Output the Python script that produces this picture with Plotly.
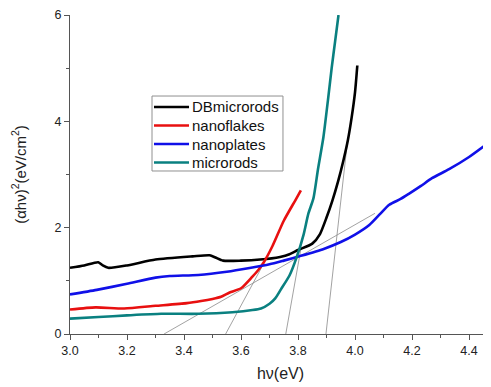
import plotly.graph_objects as go

# DBmicrorods
db_x = [3.0, 3.05, 3.099, 3.115, 3.134, 3.2, 3.3, 3.43, 3.49, 3.51, 3.537, 3.6, 3.667, 3.737, 3.77, 3.8, 3.85, 3.877, 3.90, 3.92, 3.941, 3.959, 3.975, 3.988, 4.0, 4.008]
db_y = [1.245, 1.29, 1.35, 1.29, 1.245, 1.29, 1.40, 1.46, 1.48, 1.44, 1.38, 1.38, 1.40, 1.45, 1.50, 1.58, 1.70, 1.88, 2.19, 2.50, 2.88, 3.26, 3.65, 4.07, 4.55, 5.05]

# nanoflakes
fl_x = [3.0, 3.09, 3.19, 3.3, 3.41, 3.46, 3.5, 3.53, 3.56, 3.6, 3.64, 3.66, 3.68, 3.71, 3.75, 3.79, 3.81]
fl_y = [0.46, 0.50, 0.48, 0.53, 0.58, 0.62, 0.66, 0.70, 0.78, 0.86, 1.08, 1.20, 1.35, 1.65, 2.13, 2.51, 2.70]

# nanoplates
pl_x = [3.0, 3.094, 3.2, 3.3, 3.35, 3.45, 3.55, 3.63, 3.7, 3.75, 3.81, 3.89, 3.95, 4.0, 4.05, 4.09, 4.12, 4.16, 4.19, 4.23, 4.27, 4.33, 4.40, 4.474]
pl_y = [0.745, 0.83, 0.945, 1.06, 1.09, 1.11, 1.17, 1.24, 1.31, 1.38, 1.47, 1.60, 1.73, 1.87, 2.05, 2.27, 2.43, 2.54, 2.64, 2.78, 2.93, 3.10, 3.33, 3.62]

# microrods
mr_x = [3.0, 3.1, 3.2, 3.32, 3.45, 3.57, 3.64, 3.67, 3.70, 3.72, 3.74, 3.77, 3.795, 3.82, 3.836, 3.854, 3.87, 3.889, 3.905, 3.918, 3.93, 3.942]
mr_y = [0.29, 0.32, 0.35, 0.38, 0.38, 0.41, 0.45, 0.48, 0.57, 0.67, 0.84, 1.10, 1.44, 1.88, 2.26, 2.55, 3.1, 3.7, 4.4, 5.0, 5.5, 6.0]

# tangent (extrapolation) lines: [x0, x1], [y0, y1]
tan_plates_x = [3.33, 4.07]
tan_plates_y = [0.0, 2.27]
tan_flakes_x = [3.546, 3.68]
tan_flakes_y = [0.0, 1.33]
tan_rods_x = [3.757, 3.81]
tan_rods_y = [0.0, 1.6]
tan_db_x = [3.898, 3.975]
tan_db_y = [0.0, 3.7]

x_ticks = [3.0, 3.2, 3.4, 3.6, 3.8, 4.0, 4.2, 4.4]
y_ticks = [0, 2, 4, 6]

series_names = ["DBmicrorods", "nanoflakes", "nanoplates", "microrods"]
series_colors = ["#000000", "#e81010", "#1010e8", "#0a8080"]

fig = go.Figure()

for tx, ty in [(tan_plates_x, tan_plates_y), (tan_flakes_x, tan_flakes_y),
               (tan_rods_x, tan_rods_y), (tan_db_x, tan_db_y)]:
    fig.add_trace(go.Scatter(x=tx, y=ty, mode="lines", showlegend=False,
                             line=dict(color="#8a8a8a", width=0.8), hoverinfo="skip"))

for name, xs, ys, c in zip(series_names, [db_x, fl_x, pl_x, mr_x], [db_y, fl_y, pl_y, mr_y], series_colors):
    fig.add_trace(go.Scatter(x=xs, y=ys, mode="lines", name=name, showlegend=False,
                             line=dict(color=c, width=2.6, shape="spline", smoothing=0.6)))

# legend box drawn in paper coordinates
fig.add_shape(type="rect", xref="paper", yref="paper", x0=0.1948, x1=0.5059, y0=0.511, y1=0.746,
              line=dict(color="#909090", width=1), fillcolor="white", layer="above")
leg_y = [0.7116, 0.6536, 0.5956, 0.5376]
for name, c, ly in zip(series_names, series_colors, leg_y):
    fig.add_shape(type="line", xref="paper", yref="paper", x0=0.1995, x1=0.2827, y0=ly, y1=ly,
                  line=dict(color=c, width=2.6), layer="above")
    fig.add_annotation(xref="paper", yref="paper", x=0.2874, y=ly, text=name, showarrow=False,
                       xanchor="left", yanchor="middle", borderpad=0,
                       font=dict(family="Liberation Sans, Arial", size=15, color="#111111"))

axis_common = dict(showgrid=False, zeroline=False, showline=True, linecolor="#555555",
                   linewidth=1, ticks="outside", ticklen=5, tickcolor="#555555",
                   automargin=False, ticklabeloverflow="allow",
                   tickfont=dict(family="Liberation Sans, Arial", size=12.5, color="#222222"))

fig.update_xaxes(range=[3.0, 4.477], tickvals=x_ticks, ticktext=[f"{v:.1f}" for v in x_ticks],
                 minor=dict(dtick=0.1, tick0=3.0, ticks="outside", ticklen=3, tickcolor="#555555"),
                 title=dict(text="hν(eV)",
                            font=dict(family="Liberation Sans, Arial", size=16, color="#222222"),
                            standoff=10),
                 **axis_common)
fig.update_yaxes(range=[0, 6], tickvals=y_ticks, ticktext=[str(v) for v in y_ticks],
                 minor=dict(dtick=1, tick0=0, ticks="outside", ticklen=3, tickcolor="#555555"),
                 title=dict(text="(αhν)<sup>2</sup>(eV/cm<sup>2</sup>)",
                            font=dict(family="Liberation Sans, Arial", size=15, color="#222222"),
                            standoff=24),
                 **axis_common)

# the page body adds an 8px offset, so the figure is sized 8px smaller
fig.update_layout(
    width=483, height=379,
    margin=dict(l=62, r=0, t=7, b=53),
    plot_bgcolor="white", paper_bgcolor="white",
    showlegend=False,
)

fig.write_html("out.html")
